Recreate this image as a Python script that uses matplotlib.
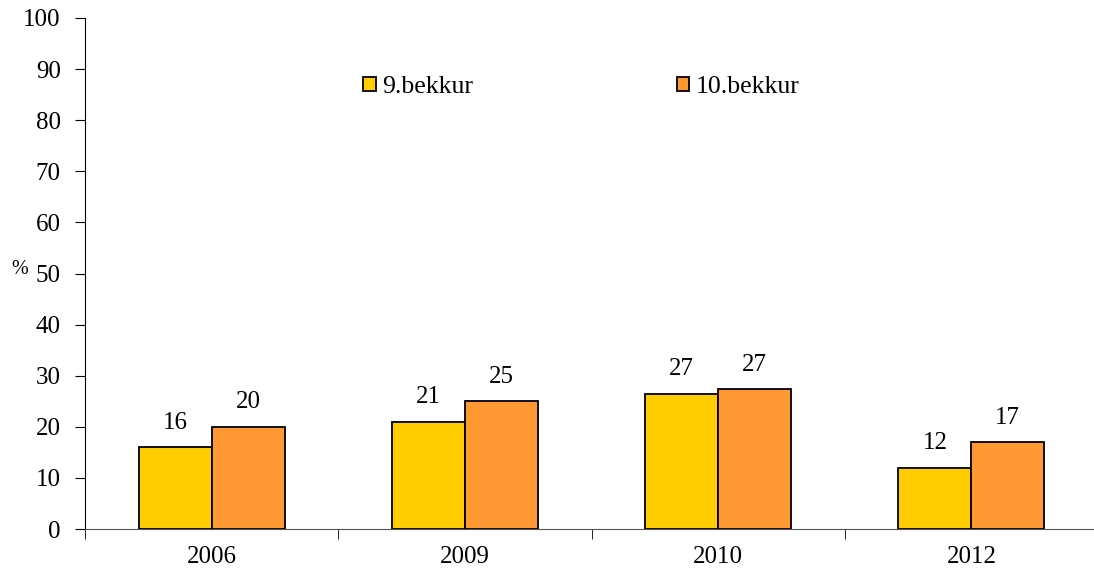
import numpy as np
import matplotlib.pyplot as plt

years = ["2006", "2009", "2010", "2012"]
grade9 = [16, 21, 26.5, 12]
grade10 = [20, 25, 27.3, 17]
labels9 = ["16", "21", "27", "12"]
labels10 = ["20", "25", "27", "17"]

plt.rcParams['font.family'] = ['Liberation Serif', 'DejaVu Serif']

fig = plt.figure(figsize=(10.94, 5.71), dpi=100)
ax = fig.add_axes([85/1094, 1 - 529/571, (1098 - 85)/1094, (529 - 18)/571])

x = np.arange(len(years))
w = 0.288
b9 = ax.bar(x - w/2, grade9, w, color='#FFCC00', edgecolor='black', linewidth=1.3, label='9.bekkur')
b10 = ax.bar(x + w/2, grade10, w, color='#FF9933', edgecolor='black', linewidth=1.3, label='10.bekkur')

for bars, labs in ((b9, labels9), (b10, labels10)):
    for rect, lab in zip(bars, labs):
        ax.annotate(lab, (rect.get_x() + rect.get_width()/2, rect.get_height()),
                    xytext=(0, 17.5), textcoords='offset points',
                    ha='center', va='center', fontsize=18)

ax.set_xlim(-0.5, len(years) - 0.5)
ax.set_ylim(0, 100)
ax.set_yticks(range(0, 101, 10))
ax.tick_params(axis='y', labelsize=18, length=7, direction='out', pad=10.5)

# category labels at centres, tick marks between categories
ax.set_xticks(x)
ax.set_xticklabels(years)
ax.tick_params(axis='x', which='major', length=0, labelsize=18, pad=12)
ax.set_xticks(np.arange(-0.5, len(years)), minor=True)
ax.tick_params(axis='x', which='minor', length=7, direction='out')

ax.spines['top'].set_visible(False)
ax.spines['right'].set_visible(False)
ax.spines['bottom'].set_color('#555555')

fig.text(11/1094, 1 - 270/571, "%", fontsize=14.5, ha='left', va='center')

ax.legend(loc='center left', bbox_to_anchor=(268/1013, 1 - (87 - 18)/511), ncol=2,
          frameon=False, fontsize=18.5, handlelength=0.5, handleheight=0.5,
          handletextpad=0.25, columnspacing=7.9, borderaxespad=0)

fig.savefig('out.png', dpi=100)
